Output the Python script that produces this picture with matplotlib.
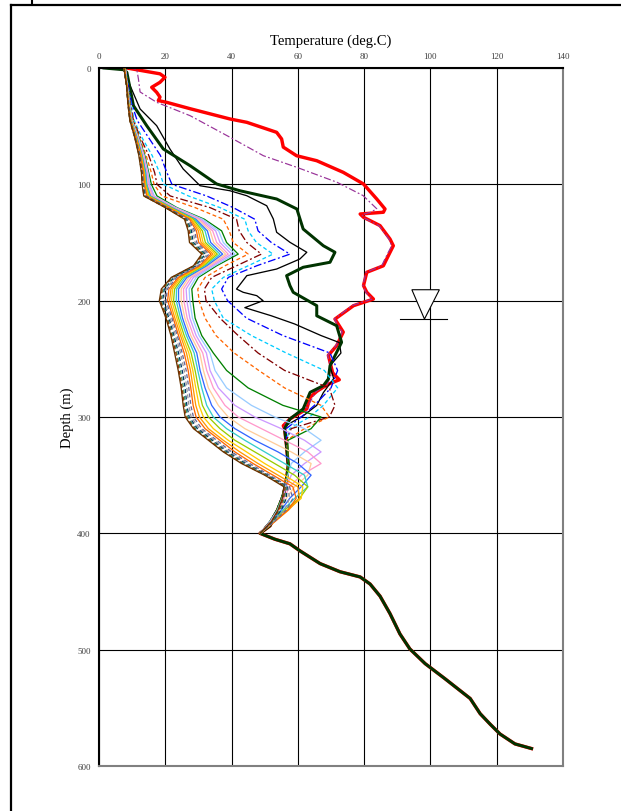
import matplotlib
matplotlib.use('Agg')
import matplotlib.pyplot as plt
from matplotlib.lines import Line2D

# ---------------- data ----------------
x_ticks = [0, 20, 40, 60, 80, 100, 120, 140]
y_ticks = [0, 100, 200, 300, 400, 500, 600]

# common deep section (below 400 m)
deep_depth = [400, 405, 409, 415, 426, 433, 437.5, 443.6, 454, 469, 486.5, 499.4,
              512, 525, 542, 555, 564, 572.5, 581, 585]
deep_temp = [48.6, 53, 57.6, 60.6, 66.7, 72.7, 78.8, 81.8, 84.8, 87.8, 90.8, 93.8,
             98.4, 104.4, 112, 115, 118, 121, 125.5, 130.5]

# common middle trunk (310-400 m) for the hottest profiles
mid_depth = [310, 325, 342, 353, 368, 382, 393.5, 398]
mid_temp = [56, 56.6, 57.1, 56.6, 55.6, 53.6, 51.6, 49.5]

red_depth = [0, 5, 8, 12.3, 16.6, 20.9, 25, 28, 29.5, 35, 43.8, 46.7, 55.3, 61, 68, 75.4,
             79.7, 89.7, 99.7, 112.6, 121.2, 124, 125.5, 128.3, 135.5, 147, 152.8, 164.2,
             170, 175.6, 187, 192.8, 198.6, 204.3, 215.8, 227, 238.7, 247, 262, 268, 272,
             278, 283, 293, 301.7, 307.5]
red_temp = [8.4, 18.4, 19.9, 18.4, 15.9, 17.4, 18.4, 17.9, 20.4, 27.5, 39.5, 44.6, 53.6,
            55.1, 55.6, 59.6, 65.7, 73.7, 79.8, 83.8, 86.3, 85.8, 78.8, 79.8, 84.8, 87.8,
            88.8, 86.8, 85.8, 80.8, 79.8, 80.8, 82.8, 76.8, 71.2, 73.7, 71.7, 69.2, 70.5,
            72.5, 69, 65.7, 63.7, 62.7, 57.6, 55.6]

purple_depth = [0, 0.9, 9.5, 20.6, 29.5, 41, 59.5, 75.4, 85.4, 98.2, 109.7, 121, 124,
                126, 129, 135.5, 147, 152.8, 164, 170, 175.6, 187, 193, 198.6, 204,
                215.8, 227, 238.7, 247, 262, 272, 278, 293, 301.7, 307.5]
purple_temp = [9, 11.4, 11.9, 12.4, 17.4, 27.5, 39.5, 49.6, 59.7, 71.8, 79.7, 83.8, 82,
               79.3, 80, 84.5, 87.5, 88.3, 86.3, 85.3, 80.6, 79.6, 80.6, 82.5, 76.5,
               71, 73.4, 71.5, 69, 70.3, 68.8, 65.5, 62.5, 57.4, 55.6]

dkgreen_depth = [0, 1.5, 3.7, 32.4, 49.6, 69.6, 84, 99.7, 105.5, 112.6, 121.2, 138.4,
                 152.8, 158.4, 167, 171.3, 178.5, 187, 192.8, 204.3, 213, 221.5, 235.8,
                 244.4, 256, 267.3, 273, 278.8, 293, 301.7]
dkgreen_temp = [1.5, 7.5, 8.4, 10.4, 14.4, 19.4, 27.5, 35.5, 42.5, 53.6, 59.7, 61.6,
                67.7, 71.2, 69.7, 61.6, 56.6, 57.6, 58.6, 65.7, 65.7, 71.7, 73.2, 71.7,
                69.7, 69.2, 67.7, 63.7, 61.6, 57.6]

black_depth = [0, 1.5, 15.2, 35.2, 49.6, 69.6, 86.8, 101.2, 105.5, 109.8, 118.4, 129.8,
               141.2, 149.8, 158.4, 164.2, 172.8, 178.5, 190, 192.8, 195.7, 200, 206, 213,
               220, 230, 236, 245, 256, 267, 279, 290, 299, 307]
black_temp = [1.0, 7.5, 9.4, 12.4, 17.4, 21.4, 25.4, 30.5, 39.5, 44.6, 50.6, 52.6, 53.6,
              57.6, 62.7, 60.6, 53.6, 44.6, 41.5, 43.5, 47.6, 49.5, 44, 52, 59, 67, 72.5,
              73, 69.7, 70.8, 67.7, 65.7, 61.6, 56.6]

# fan of later profiles on a common depth grid (0-400 m)
fan_depth = [0, 15, 30, 45, 60, 75, 90, 100, 110, 120, 130, 140, 150, 160, 170, 180, 190,
             200, 215, 230, 245, 260, 275, 290, 300, 310, 320, 330, 340, 350, 360, 370,
             380, 390, 400]

fan_blue = [8, 8.8, 9.8, 11.5, 15, 18.5, 20.5, 22, 32.5, 40.5, 47, 48, 52, 57.6, 47.6, 39,
            37, 38.8, 44.5, 55.5, 69.7, 72, 70, 65, 61, 56.5, 56.6, 57, 57.2, 56.8, 56,
            55, 53.6, 51.5, 48.6]
fan_cyan = [8, 8.7, 9.6, 10.6, 13, 16, 18.3, 19.5, 27, 36.5, 44, 45, 47.5, 52.5, 45, 37.5,
            34, 34.8, 37.5, 46, 56.5, 68, 72, 67.7, 63.5, 57.5, 56.6, 57, 57.2, 56.8, 56,
            55, 53.6, 51.5, 48.6]
fan_brown = [8, 8.6, 9.4, 10.4, 12.5, 15, 16.8, 17.5, 21.5, 33.5, 41.5, 42.3, 44.6, 49,
             41.5, 34, 31.8, 32.3, 36.5, 42, 48, 56, 69.5, 71.2, 69.5, 58, 56.6, 57, 57.2,
             56.8, 56, 55, 53.6, 51.5, 48.6]
fan_orange = [8, 8.5, 9.3, 10.2, 12.2, 14.2, 15.8, 16.6, 19, 29, 37.5, 39.3, 40.5, 45, 38,
              32, 29.8, 30.2, 32, 35.3, 40.8, 48.2, 56, 67, 69.5, 62, 56.6, 57, 57.2, 56.8,
              56, 55, 53.6, 51.5, 48.6]
fan_green = [8, 8.5, 9.2, 10, 12, 13.8, 15, 15.8, 17.5, 23.5, 31.8, 37, 38.5, 42, 35.5, 30,
             28, 28.3, 29, 31, 34.5, 38.5, 45, 55.5, 67, 64, 57, 57, 57.2, 56.8, 56, 55,
             53.6, 51.5, 48.6]
fan_c01 = [8.0, 8.5, 9.2, 9.9, 11.9, 13.6, 14.8, 15.3, 16.7, 23.2, 31.3, 36.1, 37.5, 41.0,
           34.9, 29.3, 27.2, 27.4, 28.2, 30.2, 33.5, 35, 38.5, 46, 53, 62, 67, 62, 58, 57,
           56.2, 55.2, 53.8, 51.6, 48.6]
fan_c02 = [7.9, 8.5, 9.1, 9.9, 11.8, 13.5, 14.6, 15.1, 16.4, 22.9, 30.7, 35.2, 36.5, 40.0,
           34.2, 28.5, 26.3, 26.5, 27.4, 29.3, 32.4, 33.5, 36, 41, 47, 55, 62, 67, 62, 58,
           56.5, 55.4, 54, 51.7, 48.6]
fan_c03 = [7.9, 8.4, 9.1, 9.8, 11.7, 13.3, 14.4, 14.8, 16.1, 22.6, 30.2, 34.3, 35.5, 39.0,
           33.6, 27.8, 25.5, 25.6, 26.6, 28.5, 31.3, 32.5, 34.5, 38, 42, 49, 56, 63, 67, 61,
           57.5, 55.8, 54.2, 51.8, 48.6]
fan_c04 = [7.8, 8.4, 9.0, 9.8, 11.6, 13.2, 14.2, 14.6, 15.8, 22.3, 29.7, 33.5, 34.6, 38.2,
           33.1, 27.1, 24.8, 24.8, 25.9, 27.7, 30.4, 31.5, 33, 36, 39, 44, 51, 58, 64, 63,
           59, 56.5, 54.5, 52, 48.6]
fan_c05 = [7.8, 8.4, 9.0, 9.7, 11.5, 13.0, 14.1, 14.4, 15.5, 22.0, 29.2, 32.7, 33.7, 37.3,
           32.5, 26.5, 24.0, 24.0, 25.2, 27.0, 29.5, 30.5, 32, 34, 36.5, 41, 47, 54, 60, 64,
           61, 57.5, 55, 52.2, 48.6]
fan_c06 = [7.8, 8.4, 9.0, 9.7, 11.4, 12.9, 13.9, 14.3, 15.3, 21.8, 28.8, 32.0, 32.9, 36.5,
           32.0, 25.9, 23.4, 23.3, 24.6, 26.4, 28.7, 29.8, 31, 32.5, 34.5, 38.5, 44, 50, 56,
           62, 63, 59, 55.5, 52.4, 48.6]
fan_c07 = [7.7, 8.4, 8.9, 9.6, 11.3, 12.8, 13.7, 14.1, 15.0, 21.5, 28.4, 31.2, 32.1, 35.7,
           31.5, 25.3, 22.8, 22.5, 24.0, 25.7, 27.8, 29, 30, 31.2, 33, 36.5, 41, 47, 53, 59,
           63, 60.5, 56, 52.6, 48.6]
fan_c08 = [7.7, 8.4, 8.9, 9.6, 11.2, 12.7, 13.6, 13.9, 14.8, 21.3, 28.0, 30.6, 31.4, 35.1,
           31.1, 24.8, 22.2, 21.9, 23.5, 25.1, 27.1, 28.3, 29.2, 30.2, 31.5, 34.5, 39, 44.5,
           50, 56, 61.5, 61, 56.8, 52.8, 48.6]
fan_c09 = [7.7, 8.4, 8.9, 9.5, 11.2, 12.6, 13.5, 13.8, 14.6, 21.1, 27.7, 30.0, 30.8, 34.4,
           30.7, 24.3, 21.7, 21.3, 22.9, 24.6, 26.4, 27.6, 28.4, 29.2, 30.3, 33, 37.5, 42.5,
           48, 54, 60, 60.5, 57.2, 53, 48.6]
fan_c10 = [7.6, 8.4, 8.8, 9.5, 11.1, 12.5, 13.4, 13.6, 14.4, 20.9, 27.3, 29.4, 30.1, 33.8,
           30.3, 23.9, 21.1, 20.7, 22.4, 24.0, 25.7, 26.9, 27.7, 28.4, 29.3, 32, 36.5, 41,
           46.5, 52.5, 58.5, 59.5, 57, 53, 48.6]
fan_c11 = [7.6, 8.3, 8.8, 9.4, 11.0, 12.4, 13.2, 13.5, 14.2, 20.7, 27.0, 28.9, 29.5, 33.2,
           29.9, 23.4, 20.6, 20.2, 22.0, 23.6, 25.1, 26.3, 27.1, 27.7, 28.5, 31, 35.5, 40,
           45.5, 51.5, 57.5, 58.5, 56.5, 52.8, 48.6]
fan_c12 = [7.6, 8.3, 8.8, 9.4, 11.0, 12.3, 13.1, 13.4, 14.0, 20.5, 26.7, 28.4, 29.0, 32.7,
           29.6, 23.0, 20.2, 19.7, 21.5, 23.1, 24.6, 25.7, 26.5, 27.1, 27.8, 30.3, 34.8,
           39.3, 44.8, 51, 57, 57.5, 56, 52.6, 48.6]
fan_c13 = [7.5, 8.3, 8.8, 9.4, 10.9, 12.2, 13.0, 13.3, 13.9, 20.4, 26.4, 27.9, 28.4, 32.1,
           29.2, 22.6, 19.7, 19.2, 21.1, 22.6, 24.0, 25.1, 26, 26.5, 27.2, 29.7, 34.2, 38.7,
           44.2, 50.8, 56.8, 56.5, 55, 52.3, 48.6]
fan_c14 = [7.5, 8.3, 8.7, 9.3, 10.9, 12.1, 12.9, 13.2, 13.7, 20.2, 26.2, 27.5, 28.0, 31.7,
           28.9, 22.3, 19.4, 18.8, 20.7, 22.3, 23.5, 24.6, 25.5, 26.1, 26.7, 29.2, 33.7,
           38.2, 43.7, 50.5, 56.5, 56, 54.6, 52.1, 48.6]
fan_c15 = [7.5, 8.3, 8.7, 9.3, 10.8, 12.1, 12.9, 13.1, 13.6, 20.1, 26.0, 27.2, 27.6, 31.3,
           28.7, 22.0, 19.1, 18.5, 20.5, 22.0, 23.2, 24.2, 25.1, 25.7, 26.3, 28.8, 33.3,
           37.8, 43.3, 50.2, 56.2, 55.6, 54.3, 52, 48.6]
fan_c16 = [7.5, 8.3, 8.7, 9.3, 10.8, 12.0, 12.8, 13.0, 13.5, 20.0, 25.8, 26.9, 27.3, 31.0,
           28.5, 21.8, 18.8, 18.2, 20.2, 21.7, 22.8, 23.9, 24.8, 25.4, 26.0, 28.5, 33.0,
           37.5, 43.0, 50.0, 55.8, 55.3, 54.0, 52.0, 48.6]

fan_series = [fan_blue, fan_cyan, fan_brown, fan_orange, fan_green,
              fan_c01, fan_c02, fan_c03, fan_c04, fan_c05, fan_c06, fan_c07, fan_c08,
              fan_c09, fan_c10, fan_c11, fan_c12, fan_c13, fan_c14, fan_c15, fan_c16]

# styles
fan_colors = ['#0000FF', '#00CCFF', '#800000', '#FF6600', '#008000',
              '#99CCFF', '#CC99FF', '#FF99CC', '#FFCC99', '#3366FF', '#33CCCC', '#99CC00',
              '#FFCC00', '#FF9900', '#FF6600', '#666699', '#969696', '#003366', '#339966',
              '#993300', '#663300']
DD = (6, 2, 1.5, 2)
DA = (3, 2)
SO = None
fan_dashes = [DD, DA, DD, DA, SO,
              SO, SO, SO, SO, SO, SO, SO, SO, SO, SO, DA, DA, DA, DA, DA, SO]

# water-level symbol (annotation)
wl_tri_T = [94.4, 102.7, 98.2]
wl_tri_D = [190.6, 190.6, 215.8]
wl_line_T = [90.8, 104.9]
wl_line_D = [215.8, 215.8]

# ---------------- figure ----------------
serif = ['Liberation Serif', 'DejaVu Serif']
fig = plt.figure(figsize=(6.21, 8.12), dpi=100)
ax = fig.add_axes([99 / 621, 1 - 767 / 812, 464 / 621, 698 / 812])

px = 72 / 100  # points per pixel


def plot_profile(d, t, color, lw, dashes=None, z=2):
    line, = ax.plot(t, d, color=color, lw=lw, zorder=z, solid_joinstyle='round')
    if dashes is not None:
        line.set_dashes(dashes)
    return line


plot_profile(red_depth + mid_depth + deep_depth, red_temp + mid_temp + deep_temp,
             '#FF0000', 3.4 * px, z=2)
plot_profile(purple_depth + mid_depth + deep_depth, purple_temp + mid_temp + deep_temp,
             '#993399', 1.2 * px, dashes=DD, z=2.1)
plot_profile(black_depth + mid_depth + deep_depth, black_temp + mid_temp + deep_temp,
             '#000000', 1.3 * px, z=2.2)
for i, (vals, c, ds) in enumerate(zip(fan_series, fan_colors, fan_dashes)):
    plot_profile(fan_depth, vals, c, 1.3 * px, dashes=ds, z=2.4 + i * 0.01)
plot_profile(dkgreen_depth + mid_depth + deep_depth, dkgreen_temp + mid_temp + deep_temp,
             '#003300', 3.0 * px, z=2.3)

# water level symbol
ax.fill(wl_tri_T, wl_tri_D, facecolor='white', edgecolor='black', lw=0.8, zorder=5)
ax.plot(wl_line_T, wl_line_D, color='black', lw=0.8, zorder=5)

ax.set_xlim(0, 140)
ax.set_ylim(600, 0)
ax.set_xticks(x_ticks)
ax.set_yticks(y_ticks)
ax.xaxis.tick_top()
ax.xaxis.set_label_position('top')
ax.tick_params(length=0, labelsize=6.5, labelcolor='#404040', pad=6)
for lab in ax.get_xticklabels() + ax.get_yticklabels():
    lab.set_family(serif)
ax.grid(True, color='black', lw=0.8)
ax.set_axisbelow(True)

ax.spines['top'].set_color('black')
ax.spines['left'].set_color('black')
ax.spines['top'].set_linewidth(1.5)
ax.spines['left'].set_linewidth(1.5)
ax.spines['right'].set_color('#808080')
ax.spines['bottom'].set_color('#808080')
ax.spines['right'].set_linewidth(1.5)
ax.spines['bottom'].set_linewidth(1.5)

ax.set_xlabel('Temperature (deg.C)', family=serif, fontsize=10.5, labelpad=6)
ax.set_ylabel('Depth (m)', family=serif, fontsize=10.5, labelpad=2)

# outer frame of the page
fig.add_artist(Line2D([11 / 621, 11 / 621], [0, 1 - 6 / 812], transform=fig.transFigure,
                      color='black', lw=1.6))
fig.add_artist(Line2D([11 / 621, 1], [1 - 6 / 812, 1 - 6 / 812], transform=fig.transFigure,
                      color='black', lw=1.6))
fig.add_artist(Line2D([32 / 621, 32 / 621], [1, 1 - 5 / 812], transform=fig.transFigure,
                      color='black', lw=1.5))

fig.savefig('out.png', dpi=100)
